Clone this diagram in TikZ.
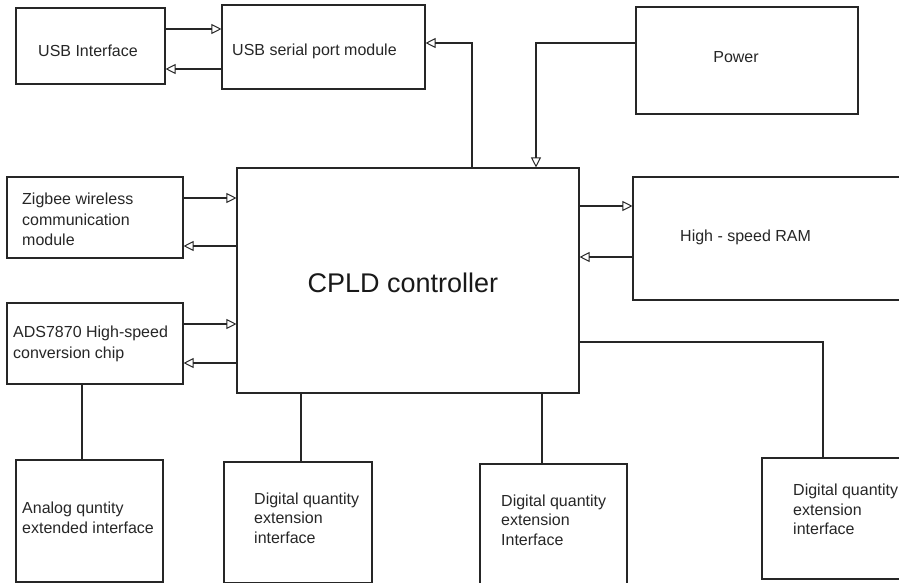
\documentclass[tikz,border=0pt]{standalone}
\usepackage{fontspec}
\setmainfont{Liberation Sans}
\usetikzlibrary{arrows.meta}
\begin{document}
\begin{tikzpicture}[x=1pt,y=-1pt,
  box/.style={draw=black!85,line width=1.1pt,rectangle,inner sep=0pt},
  lbl/.style={inner sep=0pt,align=left,font=\fontsize{16}{19.5}\selectfont,text=black!85},
  wire/.style={draw=black!85,line width=1.1pt},
  arr/.style={wire,-{Triangle[open,length=10pt,width=10pt,line width=1pt]}}]
\useasboundingbox (0,0) rectangle (899,583);
\clip (0,0) rectangle (899,583);
% boxes
\node[box,minimum width=149pt,minimum height=76pt] (usbi) at (90.5,46) {};
\node[box,minimum width=203pt,minimum height=84pt] (usbs) at (323.5,47) {};
\node[box,minimum width=222pt,minimum height=107pt] (power) at (747,60.5) {};
\node[box,minimum width=342pt,minimum height=225pt] (cpld) at (408,280.5) {};
\node[box,minimum width=287pt,minimum height=123pt] (ram) at (776.5,238.5) {};
\node[box,minimum width=176pt,minimum height=81pt] (zig) at (95,217.5) {};
\node[box,minimum width=176pt,minimum height=81pt] (ads) at (95,343.5) {};
\node[box,minimum width=147pt,minimum height=122pt] (ana) at (89.5,521) {};
\node[box,minimum width=148pt,minimum height=121pt] (dig1) at (298,522.5) {};
\node[box,minimum width=147pt,minimum height=136pt] (dig2) at (553.5,532) {};
\node[box,minimum width=158pt,minimum height=121pt] (dig3) at (841,518.5) {};
% texts
\node[lbl] (usbi-t) at (88,51) {USB Interface};
\node[lbl,anchor=west] (usbs-t) at (232,51.5) {USB serial port module};
\node[lbl] (power-t) at (736,57) {Power};
\node[inner sep=0pt,font=\fontsize{27}{32}\selectfont,text=black!90] (cpld-t) at (403,283) {CPLD controller};
\node[lbl,anchor=west] (ram-t) at (680,237.5) {High - speed RAM};
\node[lbl,anchor=west,font=\fontsize{16}{20.5}\selectfont] (zig-t) at (22,219.5) {Zigbee wireless\\communication\\module};
\node[lbl,anchor=west,font=\fontsize{16}{21}\selectfont] (ads-t) at (13,344) {ADS7870 High-speed\\conversion chip};
\node[lbl,anchor=west,font=\fontsize{16}{20}\selectfont] (ana-t) at (22,518) {Analog quntity\\extended interface};
\node[lbl,anchor=west] (dig1-t) at (254,518) {Digital quantity\\extension\\interface};
\node[lbl,anchor=west] (dig2-t) at (501,520) {Digital quantity\\extension\\Interface};
\node[lbl,anchor=west] (dig3-t) at (793,509.5) {Digital quantity\\extension\\interface};
% helper levels
\coordinate (y29) at (0,29);
\coordinate (y69) at (0,69);
\coordinate (y43) at (0,43);
\coordinate (x472) at (472,0);
\coordinate (x536) at (536,0);
\coordinate (y198) at (0,198);
\coordinate (y246) at (0,246);
\coordinate (y324) at (0,324);
\coordinate (y363) at (0,363);
\coordinate (y206) at (0,206);
\coordinate (y257) at (0,257);
\coordinate (y342) at (0,342);
\coordinate (x823) at (823,0);
\coordinate (x82) at (82,0);
\coordinate (x301) at (301,0);
\coordinate (x542) at (542,0);
% connectors
\draw[arr] (usbi.east |- y29) -- (usbs.west |- y29);
\draw[arr] (usbs.west |- y69) -- (usbi.east |- y69);
\draw[arr] (cpld.north -| x472) |- (usbs.east |- y43);
\draw[arr] (power.west |- y43) -| (cpld.north -| x536);
\draw[arr] (zig.east |- y198) -- (cpld.west |- y198);
\draw[arr] (cpld.west |- y246) -- (zig.east |- y246);
\draw[arr] (ads.east |- y324) -- (cpld.west |- y324);
\draw[arr] (cpld.west |- y363) -- (ads.east |- y363);
\draw[arr] (cpld.east |- y206) -- (ram.west |- y206);
\draw[arr] (ram.west |- y257) -- (cpld.east |- y257);
\draw[wire] (cpld.east |- y342) -| (dig3.north -| x823);
\draw[wire] (ads.south -| x82) -- (ana.north -| x82);
\draw[wire] (cpld.south -| x301) -- (dig1.north -| x301);
\draw[wire] (cpld.south -| x542) -- (dig2.north -| x542);
\end{tikzpicture}
\end{document}
